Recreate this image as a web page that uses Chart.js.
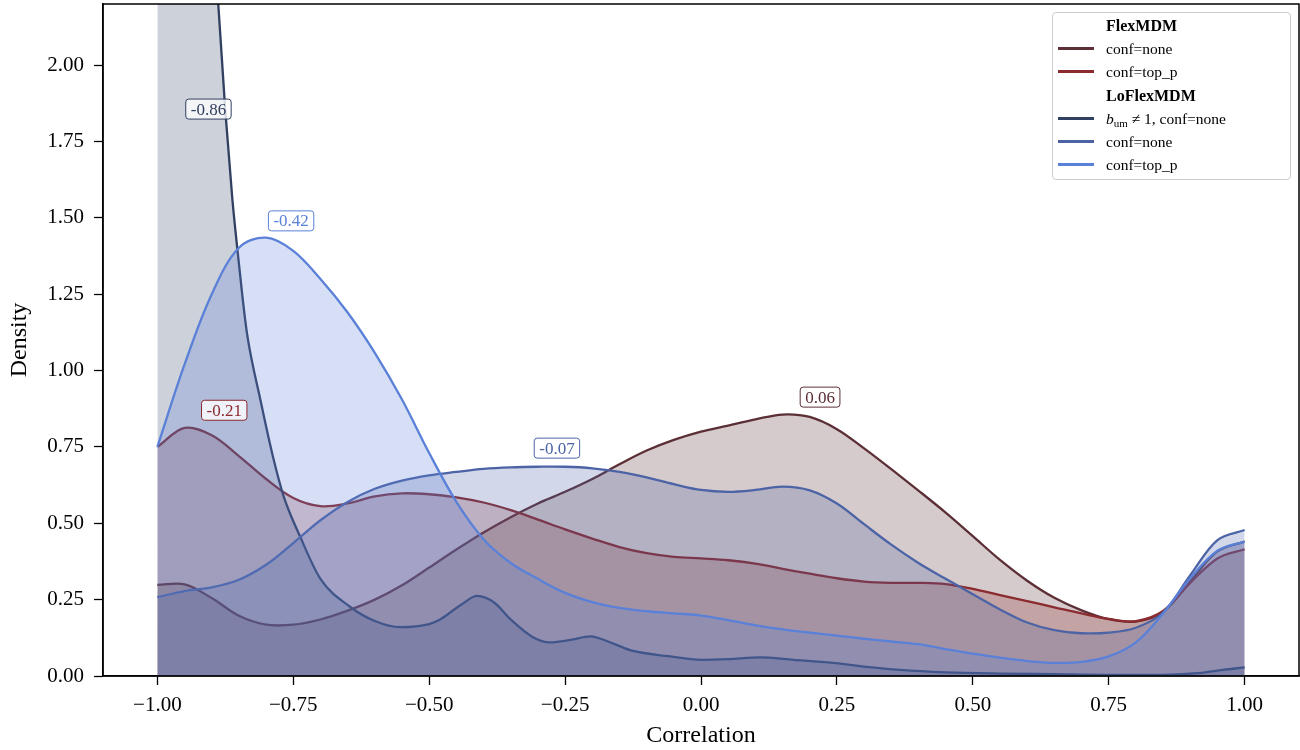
<!DOCTYPE html>
<html>
<head>
<meta charset="utf-8">
<script src="https://cdn.jsdelivr.net/npm/chart.js@4.4.1/dist/chart.umd.min.js"></script>
<style>
  body { margin: 0; background: #fff; }
  #wrap { position: relative; width: 1300px; height: 750px; }
  #chart { position: absolute; left: 0; top: 0; }
  #legend {
    position: absolute; left: 1052px; top: 12px; width: 237px; height: 166px;
    border: 1px solid #cccccc; border-radius: 4px; background: rgba(255,255,255,0.8);
    font-family: "Liberation Serif", serif; font-size: 15.5px; color: #000;
  }
  .row { position: absolute; left: 0; width: 100%; height: 23px; line-height: 23px; white-space: nowrap; }
  .sw { position: absolute; left: 5px; top: 10px; width: 36px; height: 3px; }
  .lab { position: absolute; left: 53px; top: 0; }
  .head { font-weight: bold; font-size: 16px; }
  sub { font-size: 11px; vertical-align: -3px; line-height: 0; }
</style>
</head>
<body>
<div id="wrap">
  <canvas id="chart" width="1300" height="750"></canvas>
  <div id="legend"></div>
</div>
<script>
// tick labels
const xTicks = [-1, -0.75, -0.5, -0.25, 0, 0.25, 0.5, 0.75, 1];
const yTicks = [0, 0.25, 0.5, 0.75, 1, 1.25, 1.5, 1.75, 2];

// shared x grid for most curves
const xGrid = [-1, -0.95, -0.9, -0.85, -0.8, -0.75, -0.7, -0.65, -0.6, -0.55, -0.5,
  -0.45, -0.4, -0.35, -0.3, -0.25, -0.2, -0.15, -0.1, -0.05, 0,
  0.05, 0.1, 0.15, 0.2, 0.25, 0.3, 0.35, 0.4, 0.45, 0.5,
  0.55, 0.6, 0.65, 0.7, 0.75, 0.8, 0.85, 0.9, 0.95, 1];

// FlexMDM, conf=none
const flexNone = [0.298, 0.30, 0.255, 0.197, 0.168, 0.168, 0.185, 0.214, 0.25, 0.297, 0.355,
  0.414, 0.47, 0.52, 0.565, 0.603, 0.645, 0.693, 0.738, 0.773, 0.80,
  0.82, 0.84, 0.856, 0.848, 0.808, 0.745, 0.677, 0.607, 0.535, 0.458,
  0.38, 0.312, 0.256, 0.215, 0.186, 0.178, 0.21, 0.31, 0.408, 0.44];

// FlexMDM, conf=top_p
const flexTopP = [0.75, 0.812, 0.788, 0.72, 0.645, 0.583, 0.556, 0.565, 0.588, 0.598, 0.595,
  0.585, 0.568, 0.543, 0.512, 0.48, 0.45, 0.422, 0.402, 0.39, 0.385,
  0.379, 0.368, 0.351, 0.335, 0.32, 0.309, 0.305, 0.305, 0.301, 0.285,
  0.265, 0.245, 0.225, 0.205, 0.187, 0.18, 0.213, 0.305, 0.385, 0.415];

// LoFlexMDM, b_um != 1, conf=none (own x grid, steep on the left)
const loBumX = [-1, -0.95, -0.92, -0.888, -0.875, -0.862, -0.853, -0.844, -0.835, -0.81, -0.787,
  -0.768, -0.737, -0.7, -0.645, -0.6, -0.553, -0.5, -0.48, -0.44, -0.412,
  -0.38, -0.35, -0.31, -0.278, -0.24, -0.204, -0.16, -0.125, -0.06, 0,
  0.05, 0.108, 0.17, 0.243, 0.3, 0.366, 0.45, 0.55, 0.65, 0.75,
  0.85, 0.92, 0.96, 1];
const loBumY = [4.3, 3.5, 2.9, 2.2, 1.85, 1.56, 1.40, 1.25, 1.12, 0.90, 0.715,
  0.59, 0.455, 0.318, 0.226, 0.18, 0.16, 0.17, 0.185, 0.235, 0.262,
  0.24, 0.185, 0.128, 0.11, 0.118, 0.13, 0.105, 0.082, 0.065, 0.053,
  0.055, 0.061, 0.053, 0.043, 0.031, 0.02, 0.012, 0.008, 0.006, 0.004,
  0.004, 0.01, 0.02, 0.028];

// LoFlexMDM, conf=none
const loNone = [0.258, 0.278, 0.29, 0.315, 0.364, 0.435, 0.51, 0.57, 0.613, 0.64, 0.657,
  0.668, 0.678, 0.683, 0.685, 0.685, 0.68, 0.668, 0.65, 0.628, 0.609,
  0.603, 0.609, 0.62, 0.608, 0.565, 0.497, 0.43, 0.37, 0.318, 0.268,
  0.218, 0.175, 0.15, 0.14, 0.142, 0.158, 0.208, 0.33, 0.445, 0.478];

// LoFlexMDM, conf=top_p
const loTopP = [0.75, 1.02, 1.25, 1.402, 1.435, 1.392, 1.30, 1.19, 1.058, 0.905, 0.73,
  0.57, 0.448, 0.37, 0.318, 0.272, 0.242, 0.223, 0.212, 0.205, 0.198,
  0.183, 0.166, 0.153, 0.142, 0.132, 0.122, 0.113, 0.104, 0.088, 0.073,
  0.06, 0.049, 0.043, 0.046, 0.064, 0.11, 0.205, 0.32, 0.41, 0.44];

// mean labels placed above each curve
const annotTexts = ['0.06', '-0.21', '-0.86', '-0.07', '-0.42'];
const annotX = [0.219, -0.877, -0.906, -0.265, -0.754];
const annotY = [0.913, 0.87, 1.856, 0.746, 1.49];

const colors = ['#5b2f35', '#8b2a2f', '#313f60', '#4c64a6', '#5a80d8'];
const fills = ['rgba(91,47,53,0.25)', 'rgba(142,42,48,0.25)', 'rgba(54,71,107,0.25)',
  'rgba(76,100,166,0.25)', 'rgba(90,128,216,0.25)'];

const pts = (xs, ys) => xs.map((x, i) => ({ x: x, y: ys[i] }));

const series = [
  pts(xGrid, flexNone),
  pts(xGrid, flexTopP),
  pts(loBumX, loBumY),
  pts(xGrid, loNone),
  pts(xGrid, loTopP)
];

const datasets = series.map((d, i) => ({
  data: d,
  borderColor: colors[i],
  backgroundColor: fills[i],
  borderWidth: 2.3,
  fill: 'origin',
  pointRadius: 0,
  tension: 0.35,
  // the steep curve would overshoot with plain bezier
  cubicInterpolationMode: i === 2 ? 'monotone' : 'default',
  order: 5 - i
}));

// legend (html, with group headers)
const legendRows = [
  { head: true, html: 'FlexMDM' },
  { color: colors[0], html: 'conf=none' },
  { color: colors[1], html: 'conf=top_p' },
  { head: true, html: 'LoFlexMDM' },
  { color: colors[2], html: '<i>b</i><sub>um</sub> &ne; 1, conf=none' },
  { color: colors[3], html: 'conf=none' },
  { color: colors[4], html: 'conf=top_p' }
];
const legendEl = document.getElementById('legend');
legendRows.forEach((r, i) => {
  const row = document.createElement('div');
  row.className = 'row';
  row.style.top = Math.round(1 + i * 23.2) + 'px';
  let inner = '';
  if (!r.head) inner += '<div class="sw" style="background:' + r.color + '"></div>';
  inner += '<span class="lab' + (r.head ? ' head' : '') + '">' + r.html + '</span>';
  row.innerHTML = inner;
  legendEl.appendChild(row);
});

const frame = {
  id: 'frame',
  afterDraw(chart) {
    const { ctx, chartArea: a, scales } = chart;
    ctx.save();
    ctx.strokeStyle = '#000';
    ctx.lineWidth = 1.5;
    ctx.strokeRect(a.left, a.top, a.right - a.left, a.bottom - a.top);

    // mean labels
    ctx.font = '17px "Liberation Serif", serif';
    ctx.textAlign = 'center';
    ctx.textBaseline = 'middle';
    annotTexts.forEach((t, i) => {
      const cx = scales.x.getPixelForValue(annotX[i]);
      const cy = scales.y.getPixelForValue(annotY[i]);
      const w = ctx.measureText(t).width + 10;
      const h = 20;
      ctx.beginPath();
      ctx.roundRect(cx - w / 2, cy - h / 2, w, h, 3);
      ctx.fillStyle = 'rgba(255,255,255,0.8)';
      ctx.fill();
      ctx.strokeStyle = colors[i];
      ctx.lineWidth = 1;
      ctx.stroke();
      ctx.fillStyle = colors[i];
      ctx.fillText(t, cx, cy + 1);
    });
    ctx.restore();
  }
};

new Chart(document.getElementById('chart').getContext('2d'), {
  type: 'line',
  data: { datasets: datasets },
  options: {
    responsive: false,
    animation: false,
    devicePixelRatio: 1,
    layout: { padding: { top: 4, right: 1, left: 0, bottom: 0 } },
    plugins: { legend: { display: false }, tooltip: { enabled: false } },
    scales: {
      x: {
        type: 'linear',
        min: -1.1,
        max: 1.1,
        afterBuildTicks: s => { s.ticks = xTicks.map(v => ({ value: v })); },
        afterFit: s => { s.height = 74; s.paddingLeft = 0; s.paddingRight = 0; },
        ticks: {
          color: '#000',
          font: { family: '"Liberation Serif", serif', size: 21 },
          padding: 8,
          maxRotation: 0,
          callback: v => v.toFixed(2).replace('-', '\u2212')
        },
        grid: { drawOnChartArea: false, drawTicks: true, tickLength: 9, tickColor: '#000', tickWidth: 1.3 },
        border: { color: '#000', width: 1.5 },
        title: { display: true, text: 'Correlation', color: '#000',
          font: { family: '"Liberation Serif", serif', size: 24 }, padding: { top: 0, bottom: 0 } }
      },
      y: {
        type: 'linear',
        min: 0,
        max: 2.2,
        afterBuildTicks: s => { s.ticks = yTicks.map(v => ({ value: v })); },
        afterFit: s => { s.width = 103; s.paddingTop = 0; s.paddingBottom = 0; },
        ticks: {
          color: '#000',
          font: { family: '"Liberation Serif", serif', size: 21 },
          padding: 10,
          callback: v => v.toFixed(2)
        },
        grid: { drawOnChartArea: false, drawTicks: true, tickLength: 9, tickColor: '#000', tickWidth: 1.3 },
        border: { color: '#000', width: 1.5 },
        title: { display: true, text: 'Density', color: '#000',
          font: { family: '"Liberation Serif", serif', size: 24 }, padding: { top: 5, bottom: 0 } }
      }
    }
  },
  plugins: [frame]
});
</script>
</body>
</html>
